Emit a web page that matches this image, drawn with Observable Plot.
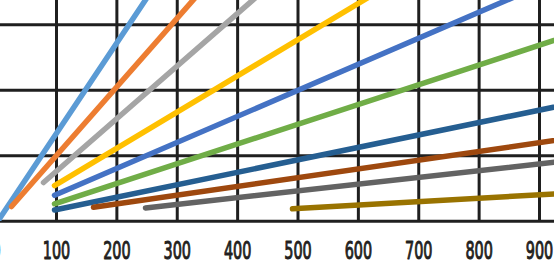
<!DOCTYPE html>
<html>
<head>
<meta charset="utf-8">
<script src="https://cdn.jsdelivr.net/npm/d3@7"></script>
<script src="https://cdn.jsdelivr.net/npm/@observablehq/plot@0.6"></script>
<style>
  html, body { margin: 0; padding: 0; background: #fff; overflow: hidden; }
  #chart svg { display: block; }
</style>
</head>
<body>
<div id="chart"></div>
<script>
// ---- data ----
const seriesNames = ["S1", "S2", "S3", "S4", "S5", "S6", "S7", "S8", "S9", "S10"];
const seriesColors = ["#5B9BD5", "#ED7D31", "#A5A5A5", "#FFC000", "#4472C4",
                      "#70AD47", "#255E91", "#9E480E", "#636363", "#997300"];
// start / end x of each straight segment
const seriesX = [
  [5, 280],
  [25.5, 380],
  [78.5, 520],
  [96.7, 720],
  [96.7, 950],
  [96.7, 1000],
  [96.7, 1000],
  [161.3, 1000],
  [247.4, 1000],
  [490.9, 1000]
];
// start / end y of each straight segment
const seriesY = [
  [0.3, 38.3],
  [2.25, 39.4],
  [5.91, 41.4],
  [5.45, 39.9],
  [3.96, 37.9],
  [2.66, 29.9],
  [1.71, 18.87],
  [2.12, 13.33],
  [2.02, 9.79],
  [1.89, 4.57]
];
const xTicks = [0, 100, 200, 300, 400, 500, 600, 700, 800, 900];
const xGrid = [0, 100, 200, 300, 400, 500, 600, 700, 800, 900, 1000];
const yGrid = [0, 10, 20, 30];

// table built from the arrays
const rows = seriesNames.flatMap((name, i) =>
  seriesX[i].map((xv, j) => ({series: name, x: xv, y: seriesY[i][j]}))
);

const gridColor = "#1f1f1f";
const labelFont = "'Liberation Sans Narrow', 'DejaVu Sans Condensed', 'Liberation Sans', sans-serif";

const chart = Plot.plot({
  width: 554,
  height: 264,
  marginTop: 0,
  marginLeft: 0,
  marginRight: 0,
  marginBottom: 43,
  style: {background: "#fff"},
  x: {domain: [0, 1000], range: [-4.375, 599.375], axis: null},
  y: {domain: [0, 30], range: [220.7, 24.3], axis: null},
  color: {domain: seriesNames, range: seriesColors},
  marks: [
    Plot.gridX(xGrid, {stroke: gridColor, strokeOpacity: 1, strokeWidth: 3}),
    Plot.gridY(yGrid, {stroke: gridColor, strokeOpacity: 1, strokeWidth: 3}),
    Plot.line(rows, {
      x: "x", y: "y", z: "series", stroke: "series",
      strokeWidth: 5.5, strokeLinecap: "round", clip: true
    }),
    Plot.text(xTicks, {
      x: d => d,
      text: d => String(d),
      frameAnchor: "bottom",
      lineAnchor: "bottom",
      dy: 37.4,
      fontSize: 25,
      fontWeight: "normal",
      fontFamily: labelFont,
      fill: "#231f20",
      stroke: "#231f20",
      strokeWidth: 1
    })
  ]
});

document.getElementById("chart").appendChild(chart);

// condense the tick labels horizontally
const labels = chart.querySelectorAll('g[aria-label="text"] text');
if (labels.length > 1) {
  const w = labels[1].getComputedTextLength();
  const k = w > 0 ? 27.5 / w : 1;
  labels.forEach(t => {
    const tr = t.getAttribute("transform") || "";
    t.setAttribute("transform", tr + ` scale(${k},1)`);
    t.setAttribute("paint-order", "normal");
  });
}
</script>
</body>
</html>
